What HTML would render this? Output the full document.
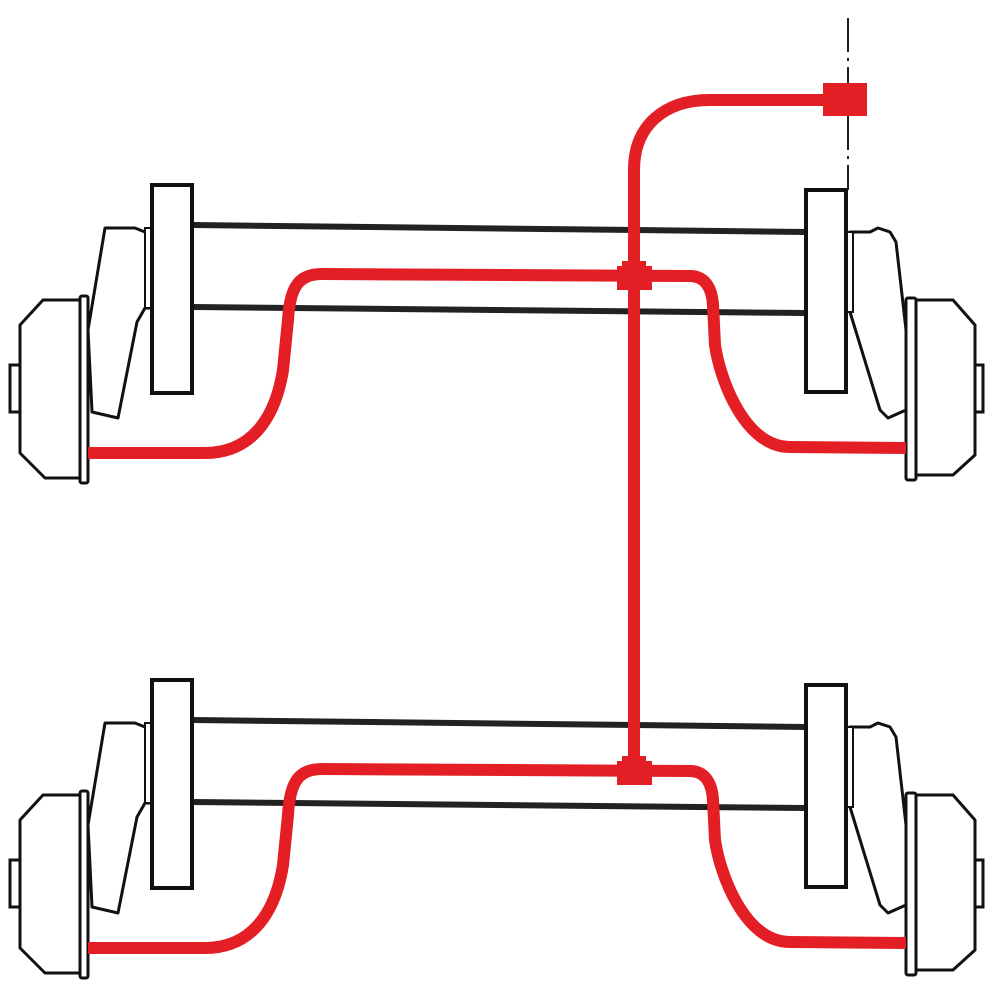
<!DOCTYPE html>
<html><head><meta charset="utf-8"><style>html,body{margin:0;padding:0;background:#fff}svg{display:block}</style></head>
<body>
<svg width="1000" height="1000" viewBox="0 0 1000 1000" xmlns="http://www.w3.org/2000/svg">
<defs>
<g id="axle">
  <line x1="193" y1="225" x2="806" y2="232" stroke="#222" stroke-width="6"/>
  <line x1="193" y1="307" x2="806" y2="313" stroke="#222" stroke-width="6"/>
  <path d="M105,228 L135,228 L145,232 L152,230 L152,308 L145,308 L137,322 L118,418 L92,412 L88,330 Z" fill="#fff" stroke="#111" stroke-width="3" stroke-linejoin="round"/>
  <rect x="145" y="228" width="7" height="80" fill="#fff" stroke="#111" stroke-width="2"/>
  <path d="M80,300 L43,300 L20,325 L20,453 L45,478 L80,478 Z" fill="#fff" stroke="#111" stroke-width="3" stroke-linejoin="round"/>
  <rect x="10" y="365" width="10" height="47" fill="#fff" stroke="#111" stroke-width="3"/>
  <rect x="80" y="296" width="8" height="187" rx="2" fill="#fff" stroke="#111" stroke-width="3"/>
  <rect x="152" y="185" width="40" height="208" fill="#fff" stroke="#111" stroke-width="4"/>
  <path d="M850,232 L870,232 L878,228 L890,232 L896,242 L906,330 L906,410 L888,418 L880,410 L850,312 Z" fill="#fff" stroke="#111" stroke-width="3" stroke-linejoin="round"/>
  <rect x="846" y="232" width="7" height="80" fill="#fff" stroke="#111" stroke-width="2"/>
  <path d="M916,300 L953,300 L975,325 L975,455 L953,475 L916,475 Z" fill="#fff" stroke="#111" stroke-width="3" stroke-linejoin="round"/>
  <rect x="975" y="365" width="8" height="47" fill="#fff" stroke="#111" stroke-width="3"/>
  <rect x="906" y="298" width="10" height="182" rx="2" fill="#fff" stroke="#111" stroke-width="3"/>
  <rect x="806" y="190" width="40" height="202" fill="#fff" stroke="#111" stroke-width="4"/>
  <path d="M88,453 L205,453 C250,453 275,420 283,370 L288,320 C290,285 300,274 322,274 L690,276 C705,276 712,288 713,305 L715,345 C720,380 745,447 790,447 L906,448" fill="none" stroke="#e31e24" stroke-width="12"/>
  <rect x="617" y="266" width="35" height="24" fill="#e31e24"/>
  <rect x="622" y="261" width="24" height="8" fill="#e31e24"/>
</g>
</defs>
<rect width="1000" height="1000" fill="#fff"/>
<line x1="848" y1="18" x2="848" y2="190" stroke="#222" stroke-width="2" stroke-dasharray="34,6,3,6"/>
<use href="#axle"/>
<use href="#axle" transform="translate(0,495)"/>
<path d="M634,775 L634,170 C634,125 665,100 710,100 L825,100" fill="none" stroke="#e31e24" stroke-width="12"/>
<rect x="823" y="83" width="44" height="33" fill="#e31e24"/>
</svg>
</body></html>
